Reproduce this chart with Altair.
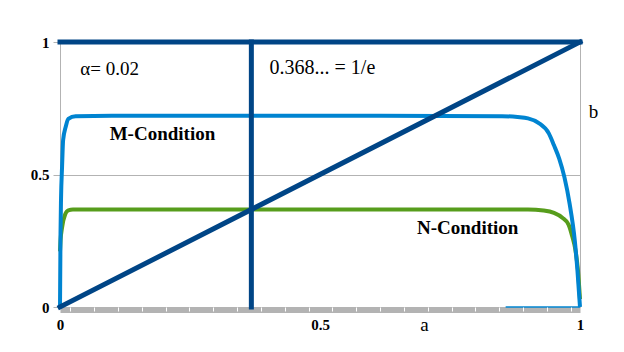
import altair as alt
import pandas as pd

# ---- data ----
M_A = [0.0, 0.001, 0.002, 0.004, 0.006, 0.011, 0.016, 0.03, 0.1, 0.5, 0.85, 0.88, 0.9, 0.92, 0.94, 0.95, 0.96, 0.97, 0.98, 0.99, 0.995, 1.0]
M_B = [0.0, 0.28, 0.41, 0.53, 0.63, 0.68, 0.71, 0.72, 0.722, 0.722, 0.72, 0.717, 0.712, 0.695, 0.655, 0.61, 0.56, 0.49, 0.39, 0.25, 0.14, 0.0]

TAIL_A = [0.857, 1.0]
TAIL_B = [0.0, 0.0]

N_A = [0.0, 0.001, 0.004, 0.01, 0.016, 0.025, 0.1, 0.5, 0.9, 0.93, 0.95, 0.966, 0.978, 0.985, 0.991, 0.996, 1.0]
N_B = [0.21, 0.25, 0.30, 0.35, 0.365, 0.368, 0.368, 0.368, 0.368, 0.364, 0.355, 0.337, 0.311, 0.267, 0.217, 0.14, 0.03]

DIAG_A = [0.0, 1.0]
DIAG_B = [0.0, 1.0]
TOP_A = [0.0, 1.0]
TOP_B = [1.0, 1.0]
VERT_A = [0.368, 0.368]
VERT_B = [0.0, 1.0]

X_LABELS = [0, 0.5, 1]
Y_LABELS = [0, 0.5, 1]
BAND_TICKS = [0.02, 0.066, 0.112, 0.157, 0.203, 0.249, 0.295, 0.341, 0.386, 0.432, 0.478,
              0.524, 0.570, 0.615, 0.661, 0.707, 0.753, 0.799, 0.844, 0.890, 0.936, 0.982]

NOTE_TEXT = ["α= 0.02", "0.368... = 1/e", "M-Condition", "N-Condition", "b", "a"]
NOTE_A = [0.039, 0.403, 0.197, 0.784, 1.026, 0.701]
NOTE_B = [0.877, 0.881, 0.632, 0.277, 0.715, -0.092]
NOTE_SIZE = [19, 20, 19, 19, 19, 19]
NOTE_BOLD = [False, False, True, True, False, False]
NOTE_ALIGN = ["left", "left", "center", "center", "center", "center"]

# ---- styling ----
FONT = "'Liberation Serif', 'Times New Roman', serif"
GREY = "#b3b3b3"
DARK = "#004586"
LIGHT = "#0084d1"
GREEN = "#579d1c"

XS = alt.Scale(domain=[0, 1], nice=False, zero=False)
YS = alt.Scale(domain=[0, 1], nice=False, zero=False)


def ex(axis=None):
    return alt.X("a:Q", scale=XS, axis=axis)


def ey(axis=None):
    return alt.Y("b:Q", scale=YS, axis=axis)


label_axis = alt.Axis(
    orient="bottom",
    values=X_LABELS,
    labelExpr="datum.value == 0.5 ? '0.5' : format(datum.value, 'd')",
    title=None, grid=False, ticks=False, tickSize=0,
    domainColor=GREY, domainWidth=5, offset=3,
    labelFont=FONT, labelFontSize=15, labelFontWeight="bold", labelColor="black",
    labelPadding=7, labelOverlap=False, labelFlush=False, labelBaseline="top",
)
tick_axis = alt.Axis(
    orient="bottom",
    values=BAND_TICKS, labels=False, domain=False, ticks=True,
    tickColor="white", tickWidth=1, tickSize=4, grid=False, title=None, zindex=1,
)
y_axis = alt.Axis(
    orient="left",
    values=Y_LABELS,
    labelExpr="datum.value == 0.5 ? '0.5' : format(datum.value, 'd')",
    title=None, grid=True, gridColor=GREY, gridWidth=1,
    domainColor=GREY, domainWidth=1, tickColor=GREY, tickSize=7,
    labelFont=FONT, labelFontSize=15, labelFontWeight="bold", labelColor="black",
    labelPadding=4, labelOverlap=False, labelFlush=False,
)

df_n = pd.DataFrame({"a": N_A, "b": N_B})
df_m = pd.DataFrame({"a": M_A, "b": M_B})
df_tail = pd.DataFrame({"a": TAIL_A, "b": TAIL_B})
dark_rows = []
for seg, (aa, bb) in enumerate([(DIAG_A, DIAG_B), (TOP_A, TOP_B), (VERT_A, VERT_B)]):
    for i, (x, y) in enumerate(zip(aa, bb)):
        dark_rows.append({"a": x, "b": y, "seg": seg, "i": i})
df_dark = pd.DataFrame(dark_rows)

n_layer = alt.Chart(df_n).mark_line(color=GREEN, strokeWidth=4, interpolate="monotone").encode(
    x=ex(label_axis), y=ey(y_axis))
tick_layer = alt.Chart(df_tail).mark_line(color=LIGHT, strokeWidth=1.5).encode(
    x=ex(tick_axis), y=ey())
m_layer = alt.Chart(df_m).mark_line(color=LIGHT, strokeWidth=4, interpolate="monotone").encode(
    x=ex(), y=ey())
dark_layer = alt.Chart(df_dark).mark_line(color=DARK, strokeWidth=5, strokeCap="square").encode(
    x=ex(), y=ey(), detail="seg:N", order="i:Q")

layers = [n_layer, tick_layer, m_layer, dark_layer]
for t, a, b, s, bold, al in zip(NOTE_TEXT, NOTE_A, NOTE_B, NOTE_SIZE, NOTE_BOLD, NOTE_ALIGN):
    d = pd.DataFrame({"a": [a], "b": [b], "t": [t]})
    layers.append(
        alt.Chart(d).mark_text(
            font=FONT, fontSize=s, fontWeight="bold" if bold else "normal",
            align=al, baseline="alphabetic", color="black",
        ).encode(x=ex(), y=ey(), text="t:N")
    )

chart = (
    alt.layer(*layers)
    .resolve_axis(x="independent", y="independent")
    .properties(
        width=520, height=265,
        autosize=alt.AutoSizeParams(type="none"),
        padding={"left": 60, "top": 42, "right": 44, "bottom": 45},
        background="white",
    )
    .configure_view(stroke=GREY, strokeWidth=1)
)

chart.save("out.html", embed_options={"renderer": "svg", "actions": False})
